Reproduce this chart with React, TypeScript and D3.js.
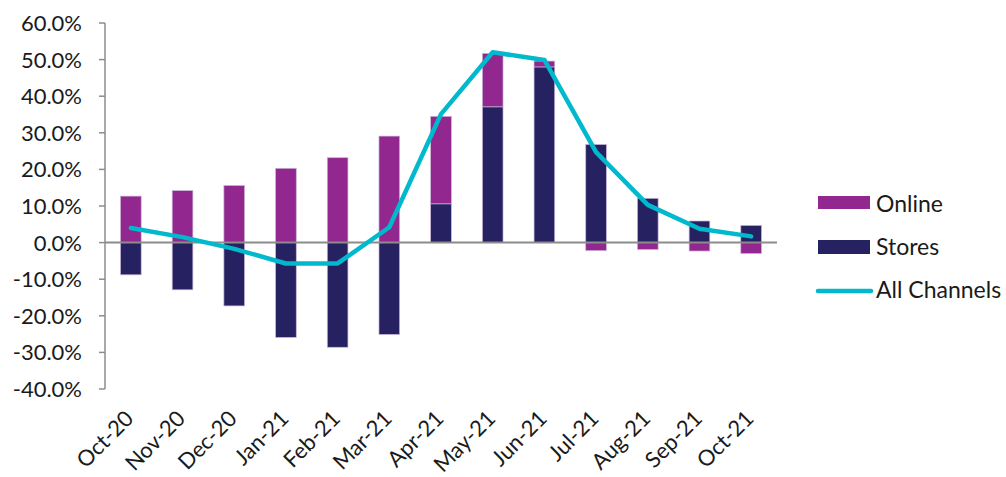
import React from "react";
import * as d3 from "d3";

const months = ["Oct-20", "Nov-20", "Dec-20", "Jan-21", "Feb-21", "Mar-21", "Apr-21", "May-21", "Jun-21", "Jul-21", "Aug-21", "Sep-21", "Oct-21"];
const online = [12.7, 14.2, 15.6, 20.3, 23.2, 29.1, 23.9, 14.6, 1.6, -2.2, -1.9, -2.3, -3.0];
const stores = [-8.8, -12.9, -17.3, -25.9, -28.6, -25.1, 10.6, 37.1, 48.0, 26.8, 12.1, 5.9, 4.7];
const allChannels = [4.0, 1.5, -1.7, -5.7, -5.7, 4.2, 35.1, 52.0, 49.9, 24.7, 10.3, 3.8, 1.7];
const yTicks = [60, 50, 40, 30, 20, 10, 0, -10, -20, -30, -40];

const W = 1006;
const H = 477;
const margin = { left: 105, right: 229, top: 23, bottom: 89 };
const FONT = "Lato, 'Open Sans', sans-serif";
const FS = 22;
const C_ONLINE = "#92278F";
const C_STORES = "#262262";
const C_ALL = "#00B9CC";

export default function App() {
  const band = d3.scaleBand<string>().domain(months).range([margin.left, W - margin.right]);
  const y = d3.scaleLinear().domain([-40, 60]).range([H - margin.bottom + 1, margin.top]);

  const rows = months.map((m, i) => ({ m, stores: stores[i], online: online[i] }));
  const stacked = d3.stack<any>().keys(["stores", "online"]).offset(d3.stackOffsetDiverging)(rows);
  const colors: Record<string, string> = { stores: C_STORES, online: C_ONLINE };

  const cx = (m: string) => (band(m) as number) + band.bandwidth() / 2;
  const barW = band.bandwidth() / 2.5;

  const line = d3.line<number>().x((_, i) => cx(months[i])).y((v) => y(v));

  return (
    <svg width={W} height={H} style={{ position: "absolute", left: 0, top: 0, background: "#fff" }} fontFamily={FONT}>
      {/* y axis */}
      <line x1={margin.left} x2={margin.left} y1={y(60)} y2={y(-40)} stroke="#8c8c8c" strokeWidth={1.5} />
      {yTicks.map((t) => (
        <g key={t}>
          <line x1={margin.left - 6} x2={margin.left} y1={y(t)} y2={y(t)} stroke="#8c8c8c" strokeWidth={1.5} />
          <text x={margin.left - 23} y={y(t)} dy="0.36em" textAnchor="end" fontSize={FS} fill="#1a1a1a">
            {t.toFixed(1)}%
          </text>
        </g>
      ))}

      {/* stacked bars */}
      {stacked.map((s) => (
        <g key={s.key} fill={colors[s.key]}>
          {s.map((d, i) => {
            const y0 = y(d[0]);
            const y1 = y(d[1]);
            return (
              <rect
                key={i}
                x={cx(months[i]) - barW / 2}
                y={Math.min(y0, y1)}
                width={barW}
                height={Math.abs(y0 - y1)}
                stroke="#c9b6d8"
                strokeWidth={0.7}
              />
            );
          })}
        </g>
      ))}

      {/* zero line */}
      <line x1={margin.left} x2={W - margin.right} y1={y(0)} y2={y(0)} stroke="#8c8c8c" strokeWidth={2} />

      {/* all channels line */}
      <path d={line(allChannels) as string} fill="none" stroke={C_ALL} strokeWidth={4.5} strokeLinejoin="round" strokeLinecap="round" />

      {/* x labels */}
      {months.map((m) => (
        <text
          key={m}
          transform={`translate(${cx(m) + 4},${y(-40) + 31}) rotate(-45)`}
          textAnchor="end"
          fontSize={FS}
          fill="#1a1a1a"
        >
          {m}
        </text>
      ))}

      {/* legend */}
      <g fontSize={23} fill="#1a1a1a">
        <rect x={818} y={196} width={52} height={13} fill={C_ONLINE} />
        <text x={876} y={204} dy="0.36em">Online</text>
        <rect x={818} y={240} width={52} height={14} fill={C_STORES} />
        <text x={876} y={247} dy="0.36em">Stores</text>
        <line x1={818} x2={871} y1={291} y2={291} stroke={C_ALL} strokeWidth={4.5} strokeLinecap="round" />
        <text x={876} y={290} dy="0.36em">All Channels</text>
      </g>
    </svg>
  );
}
